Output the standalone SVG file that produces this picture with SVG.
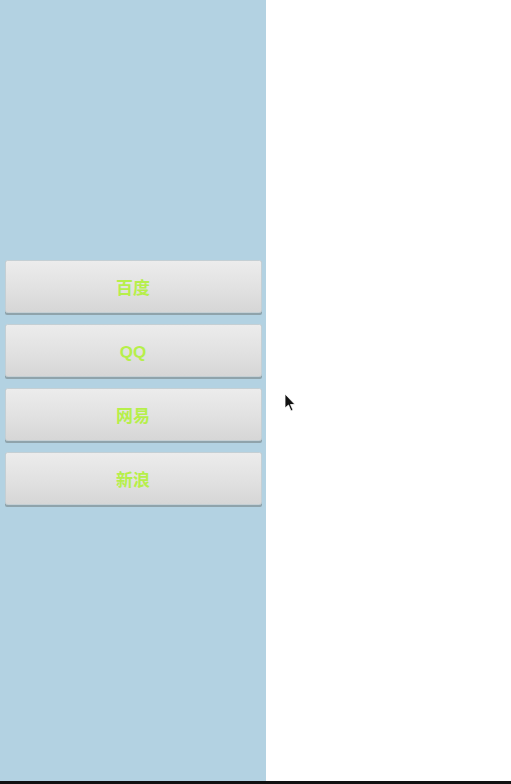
<svg xmlns="http://www.w3.org/2000/svg" width="511" height="784" viewBox="0 0 511 784">
<defs>
<linearGradient id="btn" x1="0" y1="0" x2="0" y2="1">
<stop offset="0" stop-color="#ececec"/>
<stop offset="0.5" stop-color="#e2e2e2"/>
<stop offset="1" stop-color="#d6d6d6"/>
</linearGradient>
</defs>
<style>
.b{fill:url(#btn);stroke:#c4cfd4;stroke-width:1}
.sh{fill:#8fa3ab}
.t{font-family:"Liberation Sans","Noto Sans CJK SC",sans-serif;font-size:17px;font-weight:bold;fill:#b6ef4a;text-anchor:middle}
</style>
<rect x="0" y="0" width="511" height="784" fill="#ffffff"/>
<rect id="panel" x="0" y="0" width="266" height="781" fill="#b3d2e2"/>
<rect x="0" y="781" width="511" height="3" fill="#111111"/>
<g id="btn1">
<rect class="sh" x="5" y="261" width="257" height="54" rx="2"/>
<rect class="b" x="5.5" y="260.5" width="256" height="52" rx="2"/>
<text class="t" x="133" y="294">百度</text>
</g>
<g id="btn2">
<rect class="sh" x="5" y="325" width="257" height="54" rx="2"/>
<rect class="b" x="5.5" y="324.5" width="256" height="52" rx="2"/>
<text class="t" x="133" y="358">QQ</text>
</g>
<g id="btn3">
<rect class="sh" x="5" y="389" width="257" height="54" rx="2"/>
<rect class="b" x="5.5" y="388.5" width="256" height="52" rx="2"/>
<text class="t" x="133" y="422">网易</text>
</g>
<g id="btn4">
<rect class="sh" x="5" y="453" width="257" height="54" rx="2"/>
<rect class="b" x="5.5" y="452.5" width="256" height="52" rx="2"/>
<text class="t" x="133" y="486">新浪</text>
</g>
<g id="connectors"></g>
<polygon points="285,394 285,408 288.5,405 291,411 293,410 290.5,404.5 295,404.5" fill="#111111" stroke="#ffffff" stroke-width="0.8"/>
</svg>
